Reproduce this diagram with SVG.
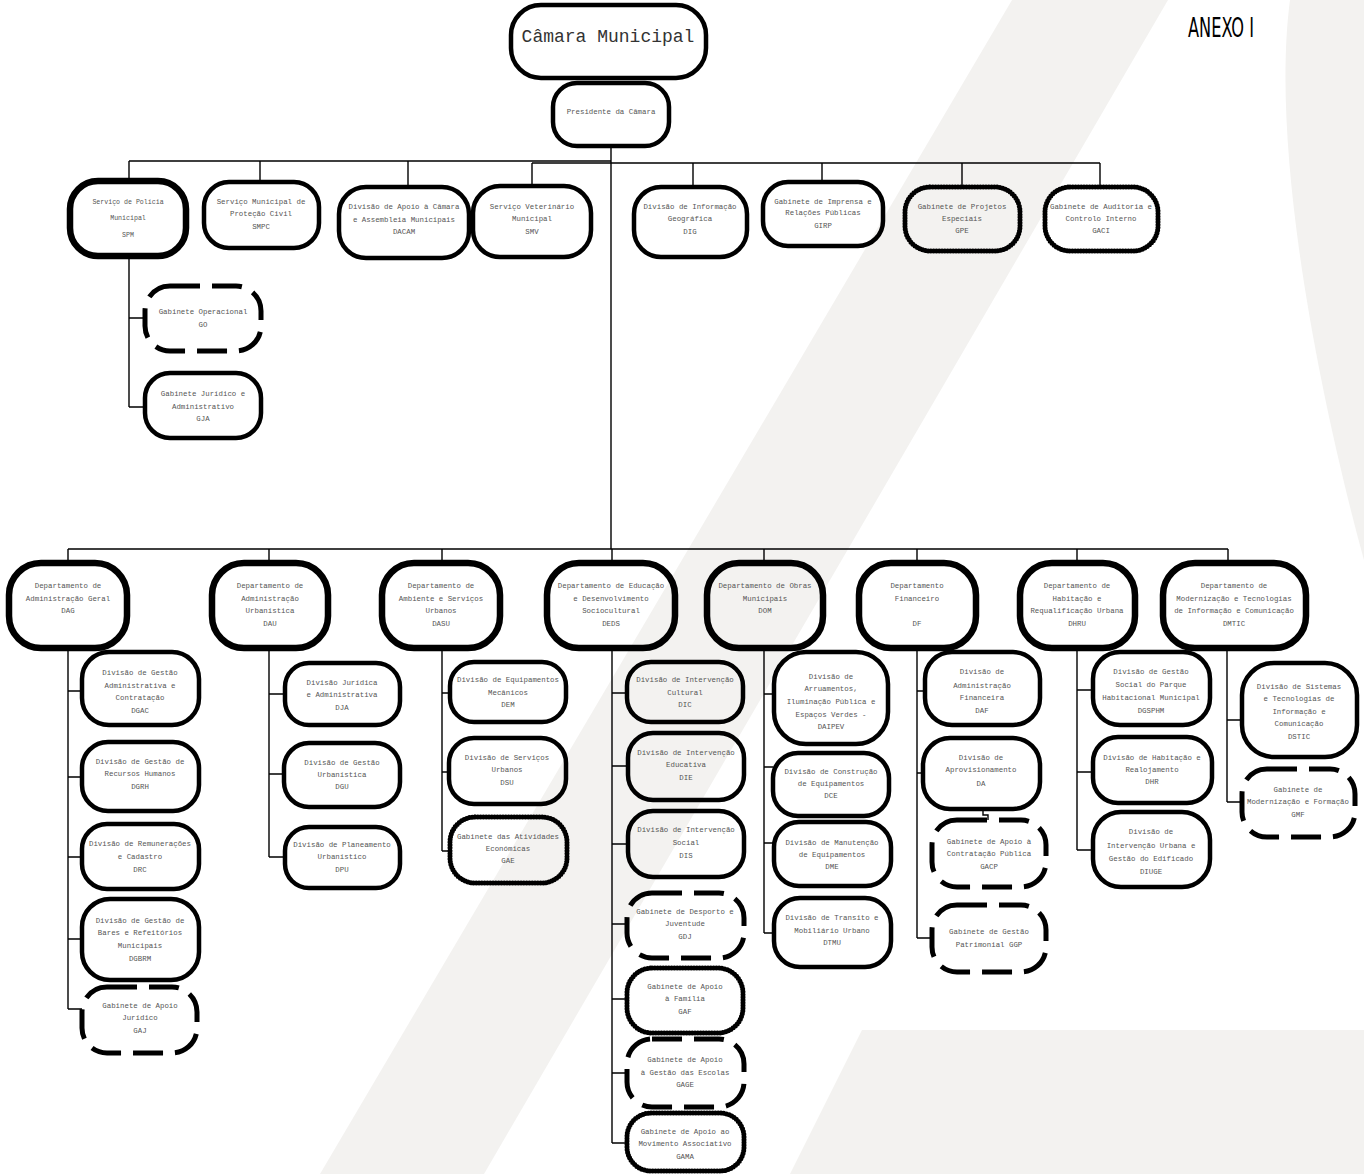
<svg xmlns="http://www.w3.org/2000/svg" width="1364" height="1174" viewBox="0 0 1364 1174">
<style>
.wm{fill:#f3f2f0;stroke:none}
.c{fill:none;stroke:#000;stroke-width:1.4}
.n{fill:none;stroke:#000;stroke-width:4.5}
.k{fill:none;stroke:#000;stroke-width:6.5}
.d{fill:none;stroke:#000;stroke-width:5;stroke-dasharray:30 12}
.o{fill:none;stroke:#000;stroke-width:5;stroke-dasharray:0 2.8;stroke-linecap:round}
.t{font-family:"Liberation Mono","Courier New",monospace;font-size:7.4px;fill:#555;text-anchor:middle}
.s{font-size:6.6px}
.big{font-size:18px;fill:#333}
.ax{font-family:"Liberation Sans Narrow","DejaVu Sans Condensed","Liberation Sans",sans-serif;font-size:27px;fill:#000}
</style>
<rect width="1364" height="1174" fill="#fff"/>
<g id="watermark">
<polygon class="wm" points="1012,0 1168,0 484,1174 320,1174"/>
<path class="wm" d="M1290,0 C1270,150 1320,400 1364,560 L1364,0 Z"/>
<polygon class="wm" points="862,1030 1364,1030 1364,1174 790,1174"/>
</g>
<text class="ax" x="1188" y="37" textLength="66" lengthAdjust="spacingAndGlyphs">ANEXO I</text>
<g id="connectors">
<path class="c" d="M611,146V549M129,161H611M532,163H1100M129,161V181M260,161V182M408,161V187M532,163V186M693,163V187M822,163V182M962,163V187M1100,163V187"/>
<path class="c" d="M129,256V407M129,318H145M129,407H145"/>
<path class="c" d="M68,549H1228M68,549V563M269,549V563M442,549V563M612,549V563M764,549V563M917,549V563M1077,549V563M1228,549V563"/>
<path class="c" d="M68,648V1009M68,691H82M68,777H82M68,857H82M68,939H82M68,1009H82"/>
<path class="c" d="M269,648V857M269,694H285M269,774H284M269,857H285"/>
<path class="c" d="M442,648V851M442,693H450M442,772H449M442,851H450"/>
<path class="c" d="M612,648V1143M612,693H627M612,766H628M612,844H628M612,924H627M612,999H627M612,1073H627M612,1143H627"/>
<path class="c" d="M764,648V933M764,694H774M764,767H773M764,843H774M764,933H774"/>
<path class="c" d="M917,648V938M917,691H925M917,773H923M917,938H932M983,809V815H988V820"/>
<path class="c" d="M1077,648V850M1077,690H1093M1077,772H1093M1077,850H1093"/>
<path class="c" d="M1227,648V802M1227,720H1242M1227,802H1242"/>
</g>
<g id="n-cm"><rect class="n" x="511" y="5" width="195" height="73" rx="30" stroke-width="5"/><text class="t big" x="608" y="42">Câmara Municipal</text></g>
<g id="n-pc"><rect class="n" x="553" y="83" width="116" height="63" rx="24"/><text class="t" x="611" y="114">Presidente da Câmara</text></g>
<g id="n-spm"><rect class="k" x="70" y="181" width="116" height="75" rx="28"/><text class="t s" x="128" y="204">Serviço de Polícia</text><text class="t s" x="128" y="220">Municipal</text><text class="t s" x="128" y="237">SPM</text></g>
<g id="n-smpc"><rect class="n" x="204" y="182" width="115" height="66" rx="25"/><text class="t" x="261" y="204">Serviço Municipal de</text><text class="t" x="261" y="216">Proteção Civil</text><text class="t" x="261" y="229">SMPC</text></g>
<g id="n-dacam"><rect class="n" x="339" y="187" width="130" height="71" rx="27"/><text class="t" x="404" y="209">Divisão de Apoio à Câmara</text><text class="t" x="404" y="222">e Assembleia Municipais</text><text class="t" x="404" y="234">DACAM</text></g>
<g id="n-smv"><rect class="n" x="473" y="186" width="118" height="71" rx="27"/><text class="t" x="532" y="209">Serviço Veterinário</text><text class="t" x="532" y="221">Municipal</text><text class="t" x="532" y="234">SMV</text></g>
<g id="n-dig"><rect class="n" x="634" y="187" width="113" height="70" rx="27"/><text class="t" x="690" y="209">Divisão de Informação</text><text class="t" x="690" y="221">Geográfica</text><text class="t" x="690" y="234">DIG</text></g>
<g id="n-girp"><rect class="n" x="763" y="182" width="120" height="64" rx="25"/><text class="t" x="823" y="204">Gabinete de Imprensa e</text><text class="t" x="823" y="215">Relações Públicas</text><text class="t" x="823" y="228">GIRP</text></g>
<g id="n-gpe"><rect class="o" x="905" y="187" width="115" height="64" rx="25"/><text class="t" x="962" y="209">Gabinete de Projetos</text><text class="t" x="962" y="221">Especiais</text><text class="t" x="962" y="233">GPE</text></g>
<g id="n-gaci"><rect class="o" x="1045" y="187" width="113" height="64" rx="25"/><text class="t" x="1101" y="209">Gabinete de Auditoria e</text><text class="t" x="1101" y="221">Controlo Interno</text><text class="t" x="1101" y="233">GACI</text></g>
<g id="n-go"><rect class="d" x="145" y="286" width="116" height="65" rx="25"/><text class="t" x="203" y="314">Gabinete Operacional</text><text class="t" x="203" y="327">GO</text></g>
<g id="n-gja"><rect class="n" x="145" y="373" width="116" height="65" rx="25"/><text class="t" x="203" y="396">Gabinete Jurídico e</text><text class="t" x="203" y="409">Administrativo</text><text class="t" x="203" y="421">GJA</text></g>
<g id="n-dag"><rect class="k" x="9" y="563" width="118" height="85" rx="32"/><text class="t" x="68" y="588">Departamento de</text><text class="t" x="68" y="601">Administração Geral</text><text class="t" x="68" y="613">DAG</text></g>
<g id="n-dau"><rect class="k" x="212" y="563" width="116" height="85" rx="32"/><text class="t" x="270" y="588">Departamento de</text><text class="t" x="270" y="601">Administração</text><text class="t" x="270" y="613">Urbanística</text><text class="t" x="270" y="626">DAU</text></g>
<g id="n-dasu"><rect class="k" x="382" y="563" width="118" height="85" rx="32"/><text class="t" x="441" y="588">Departamento de</text><text class="t" x="441" y="601">Ambiente e Serviços</text><text class="t" x="441" y="613">Urbanos</text><text class="t" x="441" y="626">DASU</text></g>
<g id="n-deds"><rect class="k" x="547" y="563" width="128" height="85" rx="32"/><text class="t" x="611" y="588">Departamento de Educação</text><text class="t" x="611" y="601">e Desenvolvimento</text><text class="t" x="611" y="613">Sociocultural</text><text class="t" x="611" y="626">DEDS</text></g>
<g id="n-dom"><rect class="k" x="707" y="563" width="116" height="85" rx="32"/><text class="t" x="765" y="588">Departamento de Obras</text><text class="t" x="765" y="601">Municipais</text><text class="t" x="765" y="613">DOM</text></g>
<g id="n-df"><rect class="k" x="859" y="563" width="117" height="85" rx="32"/><text class="t" x="917" y="588">Departamento</text><text class="t" x="917" y="601">Financeiro</text><text class="t" x="917" y="626">DF</text></g>
<g id="n-dhru"><rect class="k" x="1020" y="563" width="115" height="85" rx="32"/><text class="t" x="1077" y="588">Departamento de</text><text class="t" x="1077" y="601">Habitação e</text><text class="t" x="1077" y="613">Requalificação Urbana</text><text class="t" x="1077" y="626">DHRU</text></g>
<g id="n-dmtic"><rect class="k" x="1163" y="563" width="143" height="85" rx="32"/><text class="t" x="1234" y="588">Departamento de</text><text class="t" x="1234" y="601">Modernização e Tecnologias</text><text class="t" x="1234" y="613">de Informação e Comunicação</text><text class="t" x="1234" y="626">DMTIC</text></g>
<g id="n-dgac"><rect class="n" x="82" y="652" width="117" height="73" rx="27"/><text class="t" x="140" y="675">Divisão de Gestão</text><text class="t" x="140" y="688">Administrativa e</text><text class="t" x="140" y="700">Contratação</text><text class="t" x="140" y="713">DGAC</text></g>
<g id="n-dgrh"><rect class="n" x="82" y="742" width="117" height="69" rx="26"/><text class="t" x="140" y="764">Divisão de Gestão de</text><text class="t" x="140" y="776">Recursos Humanos</text><text class="t" x="140" y="789">DGRH</text></g>
<g id="n-drc"><rect class="n" x="82" y="824" width="117" height="65" rx="25"/><text class="t" x="140" y="846">Divisão de Remunerações</text><text class="t" x="140" y="859">e Cadastro</text><text class="t" x="140" y="872">DRC</text></g>
<g id="n-dgbrm"><rect class="n" x="82" y="899" width="117" height="81" rx="28"/><text class="t" x="140" y="923">Divisão de Gestão de</text><text class="t" x="140" y="935">Bares e Refeitórios</text><text class="t" x="140" y="948">Municipais</text><text class="t" x="140" y="961">DGBRM</text></g>
<g id="n-gaj"><rect class="d" x="82" y="987" width="115" height="66" rx="25"/><text class="t" x="140" y="1008">Gabinete de Apoio</text><text class="t" x="140" y="1020">Jurídico</text><text class="t" x="140" y="1033">GAJ</text></g>
<g id="n-dja"><rect class="n" x="285" y="663" width="115" height="62" rx="24"/><text class="t" x="342" y="685">Divisão Jurídica</text><text class="t" x="342" y="697">e Administrativa</text><text class="t" x="342" y="710">DJA</text></g>
<g id="n-dgu"><rect class="n" x="284" y="743" width="116" height="64" rx="25"/><text class="t" x="342" y="765">Divisão de Gestão</text><text class="t" x="342" y="777">Urbanística</text><text class="t" x="342" y="789">DGU</text></g>
<g id="n-dpu"><rect class="n" x="285" y="827" width="115" height="61" rx="24"/><text class="t" x="342" y="847">Divisão de Planeamento</text><text class="t" x="342" y="859">Urbanístico</text><text class="t" x="342" y="872">DPU</text></g>
<g id="n-dem"><rect class="n" x="450" y="662" width="116" height="60" rx="24"/><text class="t" x="508" y="682">Divisão de Equipamentos</text><text class="t" x="508" y="695">Mecânicos</text><text class="t" x="508" y="707">DEM</text></g>
<g id="n-dsu"><rect class="n" x="449" y="738" width="117" height="66" rx="25"/><text class="t" x="507" y="760">Divisão de Serviços</text><text class="t" x="507" y="772">Urbanos</text><text class="t" x="507" y="785">DSU</text></g>
<g id="n-gae"><rect class="o" x="450" y="817" width="117" height="66" rx="25"/><text class="t" x="508" y="839">Gabinete das Atividades</text><text class="t" x="508" y="851">Económicas</text><text class="t" x="508" y="863">GAE</text></g>
<g id="n-dic"><rect class="n" x="627" y="662" width="116" height="60" rx="24"/><text class="t" x="685" y="682">Divisão de Intervenção</text><text class="t" x="685" y="695">Cultural</text><text class="t" x="685" y="707">DIC</text></g>
<g id="n-die"><rect class="n" x="628" y="733" width="116" height="67" rx="25"/><text class="t" x="686" y="755">Divisão de Intervenção</text><text class="t" x="686" y="767">Educativa</text><text class="t" x="686" y="780">DIE</text></g>
<g id="n-dis"><rect class="n" x="628" y="811" width="116" height="66" rx="25"/><text class="t" x="686" y="832">Divisão de Intervenção</text><text class="t" x="686" y="845">Social</text><text class="t" x="686" y="858">DIS</text></g>
<g id="n-gdj"><rect class="d" x="627" y="893" width="117" height="65" rx="25"/><text class="t" x="685" y="914">Gabinete de Desporto e</text><text class="t" x="685" y="926">Juventude</text><text class="t" x="685" y="939">GDJ</text></g>
<g id="n-gaf"><rect class="o" x="627" y="968" width="116" height="65" rx="25"/><text class="t" x="685" y="989">Gabinete de Apoio</text><text class="t" x="685" y="1001">à Família</text><text class="t" x="685" y="1014">GAF</text></g>
<g id="n-gage"><rect class="d" x="627" y="1039" width="117" height="68" rx="25"/><text class="t" x="685" y="1062">Gabinete de Apoio</text><text class="t" x="685" y="1075">à Gestão das Escolas</text><text class="t" x="685" y="1087">GAGE</text></g>
<g id="n-gama"><rect class="o" x="627" y="1113" width="117" height="58" rx="24"/><text class="t" x="685" y="1134">Gabinete de Apoio ao</text><text class="t" x="685" y="1146">Movimento Associativo</text><text class="t" x="685" y="1159">GAMA</text></g>
<g id="n-daipev"><rect class="n" x="774" y="652" width="114" height="92" rx="32"/><text class="t" x="831" y="679">Divisão de</text><text class="t" x="831" y="691">Arruamentos,</text><text class="t" x="831" y="704">Iluminação Pública e</text><text class="t" x="831" y="717">Espaços Verdes -</text><text class="t" x="831" y="729">DAIPEV</text></g>
<g id="n-dce"><rect class="n" x="773" y="753" width="116" height="63" rx="25"/><text class="t" x="831" y="774">Divisão de Construção</text><text class="t" x="831" y="786">de Equipamentos</text><text class="t" x="831" y="798">DCE</text></g>
<g id="n-dme"><rect class="n" x="774" y="822" width="117" height="64" rx="25"/><text class="t" x="832" y="845">Divisão de Manutenção</text><text class="t" x="832" y="857">de Equipamentos</text><text class="t" x="832" y="869">DME</text></g>
<g id="n-dtmu"><rect class="n" x="774" y="898" width="117" height="69" rx="26"/><text class="t" x="832" y="920">Divisão de Transito e</text><text class="t" x="832" y="933">Mobiliário Urbano</text><text class="t" x="832" y="945">DTMU</text></g>
<g id="n-daf"><rect class="n" x="925" y="652" width="115" height="73" rx="27"/><text class="t" x="982" y="674">Divisão de</text><text class="t" x="982" y="688">Administração</text><text class="t" x="982" y="700">Financeira</text><text class="t" x="982" y="713">DAF</text></g>
<g id="n-da"><rect class="n" x="923" y="738" width="117" height="71" rx="27"/><text class="t" x="981" y="760">Divisão de</text><text class="t" x="981" y="772">Aprovisionamento</text><text class="t" x="981" y="786">DA</text></g>
<g id="n-gacp"><rect class="d" x="932" y="820" width="114" height="67" rx="25"/><text class="t" x="989" y="844">Gabinete de Apoio à</text><text class="t" x="989" y="856">Contratação Pública</text><text class="t" x="989" y="869">GACP</text></g>
<g id="n-ggp"><rect class="d" x="932" y="905" width="114" height="67" rx="25"/><text class="t" x="989" y="934">Gabinete de Gestão</text><text class="t" x="989" y="947">Patrimonial GGP</text></g>
<g id="n-dgsphm"><rect class="n" x="1093" y="652" width="117" height="73" rx="27"/><text class="t" x="1151" y="674">Divisão de Gestão</text><text class="t" x="1151" y="687">Social do Parque</text><text class="t" x="1151" y="700">Habitacional Municipal</text><text class="t" x="1151" y="713">DGSPHM</text></g>
<g id="n-dhr"><rect class="n" x="1093" y="737" width="119" height="66" rx="25"/><text class="t" x="1152" y="760">Divisão de Habitação e</text><text class="t" x="1152" y="772">Realojamento</text><text class="t" x="1152" y="784">DHR</text></g>
<g id="n-diuge"><rect class="n" x="1093" y="812" width="117" height="75" rx="28"/><text class="t" x="1151" y="834">Divisão de</text><text class="t" x="1151" y="848">Intervenção Urbana e</text><text class="t" x="1151" y="861">Gestão do Edificado</text><text class="t" x="1151" y="874">DIUGE</text></g>
<g id="n-dstic"><rect class="n" x="1242" y="663" width="115" height="94" rx="32"/><text class="t" x="1299" y="689">Divisão de Sistemas</text><text class="t" x="1299" y="701">e Tecnologias de</text><text class="t" x="1299" y="714">Informação e</text><text class="t" x="1299" y="726">Comunicação</text><text class="t" x="1299" y="739">DSTIC</text></g>
<g id="n-gmf"><rect class="d" x="1242" y="769" width="113" height="68" rx="25"/><text class="t" x="1298" y="792">Gabinete de</text><text class="t" x="1298" y="804">Modernização e Formação</text><text class="t" x="1298" y="817">GMF</text></g>
</svg>
